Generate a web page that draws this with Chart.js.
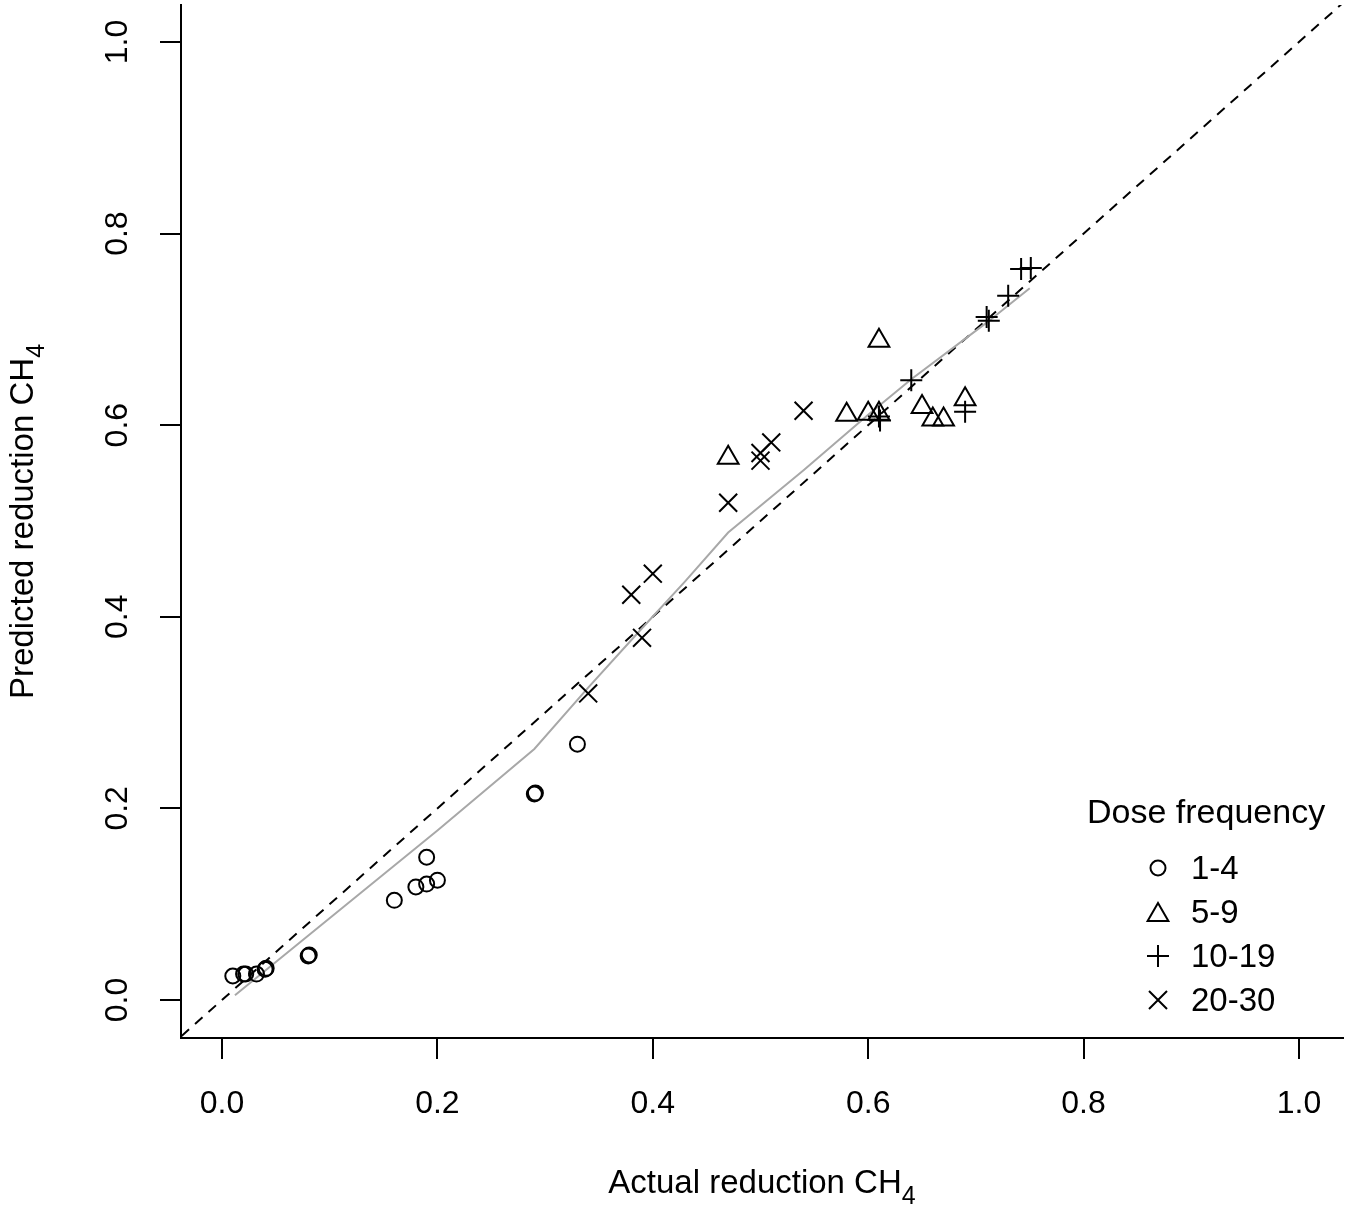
<!DOCTYPE html>
<html>
<head>
<meta charset="utf-8">
<script src="https://cdn.jsdelivr.net/npm/chart.js@4.4.0/dist/chart.umd.min.js"></script>
<style>
  html, body { margin: 0; padding: 0; background: #fff; }
  #grafico-box { width: 1352px; height: 1215px; position: relative; }
</style>
</head>
<body>
<div id="grafico-box"><canvas id="reducao-chart"></canvas></div>
<script>
// Dados do gráfico
const xTicks = [0.0, 0.2, 0.4, 0.6, 0.8, 1.0];
const yTicks = [0.0, 0.2, 0.4, 0.6, 0.8, 1.0];
const grupos = ['1-4', '5-9', '10-19', '20-30'];

// Dose 1-4 (círculos)
const x14 = [0.01, 0.02, 0.022, 0.032, 0.04, 0.041, 0.08, 0.081, 0.16, 0.18, 0.19, 0.20, 0.19, 0.29, 0.291, 0.33];
const y14 = [0.025, 0.027, 0.027, 0.027, 0.032, 0.033, 0.046, 0.047, 0.104, 0.118, 0.121, 0.125, 0.149, 0.215, 0.216, 0.267];

// Dose 5-9 (triângulos)
const x59 = [0.47, 0.61, 0.58, 0.60, 0.61, 0.65, 0.66, 0.67, 0.69];
const y59 = [0.566, 0.688, 0.611, 0.612, 0.612, 0.619, 0.606, 0.606, 0.627];

// Dose 10-19 (cruz +)
const x1019 = [0.61, 0.611, 0.64, 0.69, 0.71, 0.712, 0.73, 0.742, 0.751];
const y1019 = [0.609, 0.605, 0.647, 0.614, 0.713, 0.709, 0.735, 0.763, 0.764];

// Dose 20-30 (x)
const x2030 = [0.34, 0.39, 0.38, 0.40, 0.47, 0.50, 0.50, 0.51, 0.54];
const y2030 = [0.320, 0.378, 0.423, 0.445, 0.519, 0.571, 0.563, 0.582, 0.615];

// Curva suavizada (cinza)
const xSuave = [0.012, 0.20, 0.29, 0.34, 0.39, 0.43, 0.47, 0.54, 0.60, 0.64, 0.71, 0.75];
const ySuave = [0.005, 0.177, 0.262, 0.326, 0.388, 0.437, 0.488, 0.553, 0.611, 0.648, 0.707, 0.743];

// Linha 1:1
const xDiag = [-0.1, 1.1];
const yDiag = [-0.1, 1.1];

const fonte = '"Liberation Sans", Arial, sans-serif';

function pares(xs, ys) {
    return xs.map((x, i) => ({ x: x, y: ys[i] }));
}

// Texto com índice (CH4)
function textoComIndice(ctx, texto, indice, cx, baseY) {
    ctx.font = '33px ' + fonte;
    const w1 = ctx.measureText(texto).width;
    ctx.font = '25px ' + fonte;
    const w2 = ctx.measureText(indice).width;
    const x0 = cx - (w1 + w2) / 2;
    ctx.textAlign = 'left';
    ctx.textBaseline = 'alphabetic';
    ctx.font = '33px ' + fonte;
    ctx.fillText(texto, x0, baseY);
    ctx.font = '25px ' + fonte;
    ctx.fillText(indice, x0 + w1, baseY + 11);
}

function desenharSimbolo(ctx, tipo, x, y) {
    ctx.beginPath();
    if (tipo === 'circle') {
        ctx.arc(x, y, 7.5, 0, 2 * Math.PI);
    } else if (tipo === 'triangle') {
        const r = 12;
        ctx.moveTo(x, y - r);
        ctx.lineTo(x + r * 0.866, y + r / 2);
        ctx.lineTo(x - r * 0.866, y + r / 2);
        ctx.closePath();
    } else if (tipo === 'cross') {
        ctx.moveTo(x - 11, y); ctx.lineTo(x + 11, y);
        ctx.moveTo(x, y - 11); ctx.lineTo(x, y + 11);
    } else {
        const d = 9;
        ctx.moveTo(x - d, y - d); ctx.lineTo(x + d, y + d);
        ctx.moveTo(x - d, y + d); ctx.lineTo(x + d, y - d);
    }
    ctx.stroke();
}

const estilos = ['circle', 'triangle', 'cross', 'crossRot'];
const raios = [7.5, 12, 11, 12.7];

// Títulos dos eixos e legenda
const extras = {
    id: 'extras',
    afterDraw(chart) {
        const ctx = chart.ctx;
        const area = chart.chartArea;
        ctx.save();
        ctx.fillStyle = '#000';
        ctx.strokeStyle = '#000';
        ctx.lineWidth = 2;

        textoComIndice(ctx, 'Actual reduction CH', '4', (area.left + area.right) / 2, 1193);

        ctx.save();
        ctx.translate(33, (area.top + area.bottom) / 2);
        ctx.rotate(-Math.PI / 2);
        textoComIndice(ctx, 'Predicted reduction CH', '4', 0, 0);
        ctx.restore();

        // Legenda
        ctx.font = '34px ' + fonte;
        ctx.textAlign = 'left';
        ctx.textBaseline = 'middle';
        ctx.fillText('Dose frequency', 1087, 814);
        ctx.font = '33px ' + fonte;
        grupos.forEach((g, i) => {
            const y = 868 + i * 44;
            desenharSimbolo(ctx, estilos[i], 1158, estilos[i] === 'triangle' ? y + 3 : y);
            ctx.fillText(g, 1191, y + 2);
        });
        ctx.restore();
    }
};

const conjuntos = [x14, x59, x1019, x2030].map((xs, i) => ({
    label: grupos[i],
    data: pares(xs, [y14, y59, y1019, y2030][i]),
    pointStyle: estilos[i],
    pointRadius: raios[i],
    pointBorderWidth: 2,
    pointBorderColor: '#000',
    pointBackgroundColor: 'rgba(0,0,0,0)',
    showLine: false
}));

conjuntos.push({
    type: 'line',
    label: 'suave',
    data: pares(xSuave, ySuave),
    borderColor: '#a8a8a8',
    borderWidth: 2,
    pointRadius: 0,
    tension: 0,
    fill: false
});
conjuntos.push({
    type: 'line',
    label: 'diagonal',
    data: pares(xDiag, yDiag),
    borderColor: '#000',
    borderWidth: 2,
    borderDash: [10, 8],
    pointRadius: 0,
    tension: 0,
    fill: false
});

const eixoBase = {
    type: 'linear',
    grid: { display: true, drawOnChartArea: false, drawTicks: true, tickLength: 21, color: '#000', lineWidth: 2 },
    border: { display: true, color: '#000', width: 2 },
};

// Zerar as folgas que o Chart.js reserva para os rótulos
function semFolga(s) {
    s.paddingTop = 0;
    s.paddingBottom = 0;
    s.paddingLeft = 0;
    s.paddingRight = 0;
}

new Chart(document.getElementById('reducao-chart'), {
    type: 'scatter',
    data: { datasets: conjuntos },
    options: {
        responsive: true,
        maintainAspectRatio: false,
        animation: false,
        layout: { autoPadding: false, padding: { top: 5, right: 9, left: 0, bottom: 0 } },
        scales: {
            x: {
                ...eixoBase,
                min: -0.0381,
                max: 1.0409,
                afterBuildTicks: s => { s.ticks = xTicks.map(v => ({ value: v })); },
                afterFit: s => { s.height = 177; semFolga(s); },
                ticks: {
                    autoSkip: false, minRotation: 0, maxRotation: 0, padding: 26,
                    color: '#000', font: { family: fonte, size: 32 },
                    callback: v => Number(v).toFixed(1)
                }
            },
            y: {
                ...eixoBase,
                min: -0.0397,
                max: 1.0386,
                afterBuildTicks: s => { s.ticks = yTicks.map(v => ({ value: v })); },
                afterFit: s => { s.width = 181; semFolga(s); },
                ticks: {
                    autoSkip: false, minRotation: 90, maxRotation: 90, padding: 20,
                    crossAlign: 'center',
                    color: '#000', font: { family: fonte, size: 32 },
                    callback: v => Number(v).toFixed(1)
                }
            }
        },
        plugins: {
            legend: { display: false },
            tooltip: { enabled: false }
        }
    },
    plugins: [extras]
});
</script>
</body>
</html>
